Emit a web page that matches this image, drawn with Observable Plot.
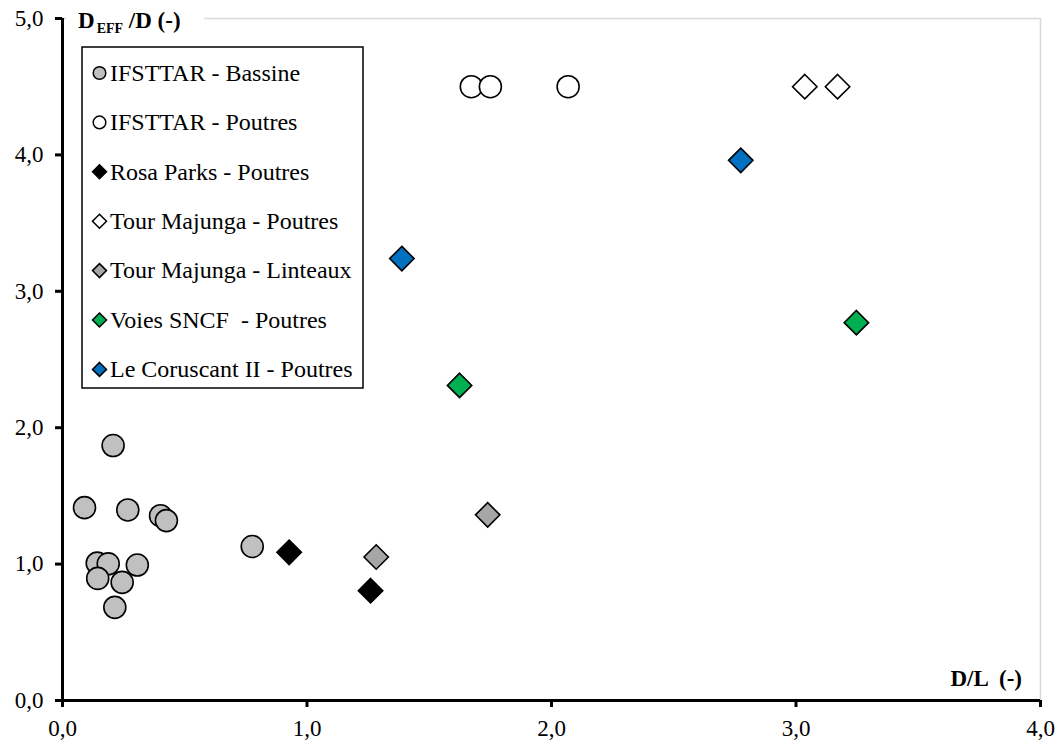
<!DOCTYPE html>
<html>
<head>
<meta charset="utf-8">
<script src="https://cdn.jsdelivr.net/npm/d3@7"></script>
<script src="https://cdn.jsdelivr.net/npm/@observablehq/plot@0.6"></script>
<style>
  html, body { margin: 0; padding: 0; background: #fff; }
  #chart svg { display: block; }
</style>
</head>
<body>
<div id="chart"></div>
<script>
// ---- Data ----
const seriesNames = [
  "IFSTTAR - Bassine",
  "IFSTTAR - Poutres",
  "Rosa Parks - Poutres",
  "Tour Majunga - Poutres",
  "Tour Majunga - Linteaux",
  "Voies SNCF  - Poutres",
  "Le Coruscant II - Poutres"
];
const seriesSymbols = ["circle", "circle", "diamond2", "diamond2", "diamond2", "diamond2", "diamond2"];
const seriesFills = ["#c0c0c0", "#ffffff", "#000000", "#ffffff", "#a6a6a6", "#00b050", "#0070c0"];

const bassineX = [0.207, 0.090, 0.267, 0.401, 0.425, 0.776, 0.142, 0.187, 0.306, 0.144, 0.244, 0.214];
const bassineY = [1.869, 1.414, 1.397, 1.355, 1.319, 1.129, 1.007, 1.002, 0.993, 0.895, 0.866, 0.683];
const ifsttarPoutresX = [1.672, 1.750, 2.068];
const ifsttarPoutresY = [4.50, 4.50, 4.50];
const rosaParksX = [0.927, 1.260];
const rosaParksY = [1.086, 0.805];
const majungaPoutresX = [3.036, 3.170];
const majungaPoutresY = [4.50, 4.50];
const majungaLinteauxX = [1.283, 1.739];
const majungaLinteauxY = [1.052, 1.361];
const sncfX = [1.624, 3.247];
const sncfY = [2.310, 2.770];
const coruscantX = [1.388, 2.774];
const coruscantY = [3.240, 3.960];

const xTicks = [0, 1, 2, 3, 4];
const yTicks = [0, 1, 2, 3, 4, 5];
const xTitle = "D/L  (-)";
const yTitleMain = "D";
const yTitleSub = "EFF";
const yTitleRest = " /D (-)";

const seriesXs = [bassineX, ifsttarPoutresX, rosaParksX, majungaPoutresX, majungaLinteauxX, sncfX, coruscantX];
const seriesYs = [bassineY, ifsttarPoutresY, rosaParksY, majungaPoutresY, majungaLinteauxY, sncfY, coruscantY];

const points = [];
seriesNames.forEach((name, i) => {
  seriesXs[i].forEach((x, j) => points.push({series: name, x, y: seriesYs[i][j]}));
});

const fmt = d => d.toFixed(1).replace(".", ",");
const FONT = "'Liberation Serif', 'Times New Roman', serif";

const seriesMarks = seriesNames.map((name, i) =>
  Plot.dot(points.filter(p => p.series === name), {
    x: "x", y: "y",
    r: 11,
    symbol: () => seriesSymbols[i],
    fill: seriesFills[i],
    stroke: "#000",
    strokeWidth: 1.6
  })
);

const plot = Plot.plot({
  width: 1059,
  height: 740,
  marginLeft: 62,
  marginRight: 19,
  marginTop: 18,
  marginBottom: 40,
  style: {fontFamily: FONT, fontSize: "23px", color: "#000", background: "#fff"},
  x: {domain: [0, 4]},
  y: {domain: [0, 5]},
  symbol: {type: "identity"},
  marks: [
    Plot.ruleY([5], {stroke: "#d9d9d9", strokeWidth: 1.5}),
    Plot.ruleX([4], {stroke: "#d9d9d9", strokeWidth: 1.5}),
    Plot.axisX({ticks: xTicks, tickFormat: fmt, tickSize: 7, tickPadding: 12, strokeWidth: 3, fontSize: 23, label: null}),
    Plot.axisY({ticks: yTicks, tickFormat: fmt, tickSize: 7, tickPadding: 12, strokeWidth: 3, fontSize: 23, label: null}),
    Plot.ruleY([0], {stroke: "#000", strokeWidth: 3}),
    Plot.ruleX([0], {stroke: "#000", strokeWidth: 3}),
    ...seriesMarks
  ]
});

document.getElementById("chart").appendChild(plot);

// ---- Titles & legend ----
const svg = d3.select(plot);
const sx = plot.scale("x"), sy = plot.scale("y");
const x0 = sx.apply(0), x4 = sx.apply(4), y0 = sy.apply(0), y5 = sy.apply(5);

// Y title (with subscript), covering top border
svg.append("rect").attr("x", x0 + 4).attr("y", y5 - 14).attr("width", 138).attr("height", 30).attr("fill", "#fff");
const yt = svg.append("text")
  .attr("x", x0 + 16).attr("y", y5 + 10)
  .attr("text-anchor", "start")
  .attr("font-family", FONT).attr("font-weight", "bold").attr("font-size", 23)
  .style("white-space", "pre");
yt.append("tspan").text(yTitleMain);
yt.append("tspan").attr("dx", 2).attr("dy", 5).attr("font-size", 14).text(yTitleSub);
yt.append("tspan").attr("dy", -5).text(yTitleRest);

// X title
svg.append("text")
  .attr("x", x4 - 18).attr("y", y0 - 14)
  .attr("text-anchor", "end")
  .attr("font-family", FONT).attr("font-weight", "bold").attr("font-size", 23)
  .style("white-space", "pre")
  .text(xTitle);

// Legend
const lg = svg.append("g").attr("text-anchor", "start");
const lx = x0 + 20, ly = y5 + 29, lw = 281, lh = 341, step = 49.4;
lg.append("rect").attr("x", lx).attr("y", ly).attr("width", lw).attr("height", lh)
  .attr("fill", "#fff").attr("stroke", "#000").attr("stroke-width", 1.5);
seriesNames.forEach((name, i) => {
  const cy = ly + 26 + i * step;
  const cx = lx + 17.5;
  const sym = seriesSymbols[i] === "circle" ? d3.symbolCircle : d3.symbolDiamond2;
  const size = Math.PI * 6.3 * 6.3;
  lg.append("path")
    .attr("d", d3.symbol(sym, size)())
    .attr("transform", `translate(${cx},${cy})`)
    .attr("fill", seriesFills[i]).attr("stroke", "#000").attr("stroke-width", 1.5);
  lg.append("text")
    .attr("x", lx + 28).attr("y", cy + 7.8)
    .attr("text-anchor", "start")
    .attr("font-family", FONT).attr("font-size", 24)
    .style("white-space", "pre")
    .text(name);
});
</script>
</body>
</html>
